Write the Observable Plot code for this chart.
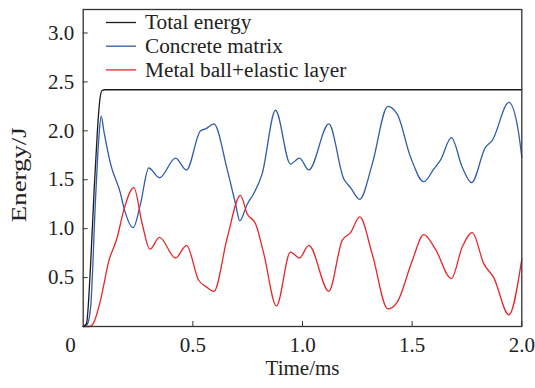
<!DOCTYPE html>
<html><head><meta charset="utf-8">
<script src="https://cdn.jsdelivr.net/npm/d3@7"></script>
<script src="https://cdn.jsdelivr.net/npm/@observablehq/plot@0.6"></script>
<style>
body{margin:0;background:#fff;}
#wrap{position:relative;width:535px;height:388px;font-family:"Liberation Serif","Times New Roman",serif;}
#legend{position:absolute;left:0;top:0;}
</style></head><body>
<div id="wrap"></div>
<script>
const seriesNames = ["Total energy", "Concrete matrix", "Metal ball+elastic layer"];
const seriesColors = ["#1a1a1a", "#2f5cab", "#e8262b"];

const totalT = [0, 0.015, 0.033, 0.05, 0.064, 0.075, 0.085, 0.1, 2.0];
const totalE = [0, 0.03, 0.6, 1.4, 1.97, 2.3, 2.41, 2.42, 2.42];

const concreteT = [0, 0.018, 0.034, 0.056, 0.072, 0.082, 0.094, 0.125, 0.17, 0.185, 0.228, 0.261, 0.299, 0.348, 0.421, 0.471, 0.535, 0.558, 0.596, 0.657, 0.695, 0.714, 0.748, 0.778, 0.816, 0.877, 0.945, 0.986, 1.029, 1.12, 1.188, 1.219, 1.261, 1.318, 1.389, 1.432, 1.493, 1.553, 1.599, 1.629, 1.679, 1.728, 1.771, 1.834, 1.865, 1.941, 1.986, 2.0];
const concreteE = [0, 0.02, 0.2, 1.29, 1.95, 2.15, 2.0, 1.66, 1.36, 1.22, 1.01, 1.25, 1.62, 1.52, 1.72, 1.60, 2.00, 2.02, 2.07, 1.60, 1.25, 1.08, 1.25, 1.36, 1.56, 2.21, 1.66, 1.72, 1.60, 2.07, 1.51, 1.42, 1.30, 1.66, 2.25, 2.17, 1.73, 1.48, 1.61, 1.70, 1.93, 1.63, 1.47, 1.83, 1.90, 2.29, 1.97, 1.73];

const metalT = [0, 0.03, 0.05, 0.079, 0.117, 0.155, 0.185, 0.231, 0.269, 0.304, 0.348, 0.421, 0.471, 0.527, 0.558, 0.596, 0.657, 0.717, 0.748, 0.786, 0.824, 0.881, 0.945, 0.986, 1.029, 1.12, 1.181, 1.219, 1.261, 1.318, 1.389, 1.432, 1.5, 1.553, 1.606, 1.679, 1.728, 1.774, 1.827, 1.872, 1.941, 2.0];
const metalE = [0, 0, 0.05, 0.27, 0.67, 0.91, 1.19, 1.42, 1.05, 0.79, 0.91, 0.70, 0.83, 0.47, 0.41, 0.36, 0.91, 1.34, 1.15, 1.05, 0.74, 0.21, 0.76, 0.70, 0.83, 0.36, 0.88, 0.96, 1.12, 0.74, 0.18, 0.25, 0.67, 0.94, 0.79, 0.49, 0.81, 0.96, 0.64, 0.50, 0.12, 0.69];

const xTicks = [0.5, 1.0, 1.5, 2.0];
const yTicks = [0.5, 1.0, 1.5, 2.0, 2.5, 3.0];
const zeroLabel = [0];

const toRows = (T, E) => T.map((t, i) => ({t, e: E[i]}));
const total = toRows(totalT, totalE);
const concrete = toRows(concreteT, concreteE);
const metal = toRows(metalT, metalE);

const fontSize = 21;
const serif = '"Liberation Serif","Times New Roman",serif';
const plot = Plot.plot({
  width: 535, height: 388,
  marginLeft: 82.7, marginRight: 13.7, marginTop: 9, marginBottom: 62,
  style: {fontFamily: serif, fontSize: fontSize + "px", color: "#222", background: "#fff"},
  x: {domain: [0, 2], label: null},
  y: {domain: [0, 3.24], label: null},
  marks: [
    Plot.line(concrete, {x: "t", y: "e", stroke: seriesColors[1], strokeWidth: 1.3, curve: "monotone-x"}),
    Plot.line(metal, {x: "t", y: "e", stroke: seriesColors[2], strokeWidth: 1.3, curve: "monotone-x"}),
    Plot.line(total, {x: "t", y: "e", stroke: seriesColors[0], strokeWidth: 1.3, curve: "monotone-x"}),
    Plot.frame({stroke: "#333", strokeWidth: 1.3}),
    Plot.axisX({ticks: xTicks, tickSize: -5, tickFormat: () => "", label: null, stroke: "#333"}),
    Plot.axisX({ticks: xTicks, tickSize: 0, tickPadding: 10.5, tickFormat: d3.format(".1f"), label: null, fontSize: fontSize}),
    Plot.axisY({ticks: yTicks, tickSize: -5, tickFormat: () => "", label: null, stroke: "#333"}),
    Plot.axisY({ticks: yTicks, tickSize: 0, tickPadding: 9, tickFormat: d3.format(".1f"), label: null, fontSize: fontSize}),
    Plot.text(zeroLabel, {x: 0, y: 0, text: () => "0", dx: -12.7, dy: 18.3, fontSize: fontSize, fill: "#222"}),
    Plot.text(["Time/ms"], {frameAnchor: "bottom", dy: 48.3, text: d => d, fontSize: fontSize, fill: "#222"}),
    Plot.text(["Energy/J"], {frameAnchor: "left", dx: -64, dy: 6.7, rotate: -90, textAnchor: "middle", text: d => d, fontSize: 20.5, fill: "#222", className: "ylab"})
  ]
});
const wrap = document.getElementById("wrap");
wrap.appendChild(plot);
// the reference's axis title is stretched along its length
plot.querySelectorAll(".ylab text").forEach(t => {
  t.setAttribute("textLength", 95);
  t.setAttribute("lengthAdjust", "spacingAndGlyphs");
});

// legend overlay inside the plot frame
const ns = "http://www.w3.org/2000/svg";
const leg = document.createElementNS(ns, "svg");
leg.setAttribute("id", "legend");
leg.setAttribute("width", 400);
leg.setAttribute("height", 90);
seriesNames.forEach((name, i) => {
  const y = 22.5 + i * 23.7;
  const l = document.createElementNS(ns, "line");
  l.setAttribute("x1", 106); l.setAttribute("x2", 136);
  l.setAttribute("y1", y); l.setAttribute("y2", y);
  l.setAttribute("stroke", seriesColors[i]); l.setAttribute("stroke-width", 1.3);
  leg.appendChild(l);
  const t = document.createElementNS(ns, "text");
  t.setAttribute("x", 145); t.setAttribute("y", y);
  t.setAttribute("dy", "0.32em");
  t.setAttribute("font-size", "21.3px");
  t.setAttribute("font-family", serif);
  t.setAttribute("fill", "#222");
  t.textContent = name;
  leg.appendChild(t);
});
wrap.appendChild(leg);
</script>
</body></html>
